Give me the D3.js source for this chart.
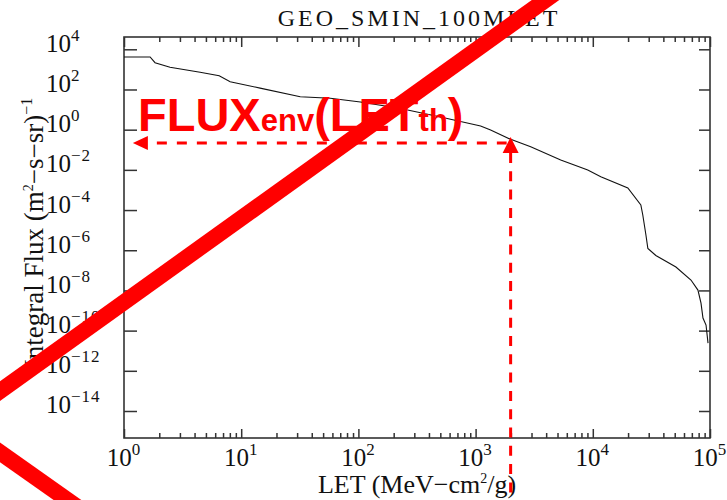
<!DOCTYPE html>
<html>
<head>
<meta charset="utf-8">
<script src="https://cdn.jsdelivr.net/npm/d3@7"></script>
<style>
    body { margin: 0; background: #fff; }
    svg { display: block; }
    .serif { font-family: "Liberation Serif", "Times New Roman", serif; fill: #111; }
    .tick line { stroke: #333; stroke-width: 1.5; }
    .tick text { display: none; }
    .domain { display: none; }
</style>
</head>
<body>
<svg id="svg"></svg>
<script>
// integral LET spectrum, GEO solar minimum, 100 mil shielding
const letValues = [1, 1.67, 1.84, 2.47, 4.46, 6.49, 8.05, 14.5, 31.9, 57.6, 104, 229, 502,
    1103, 1343, 1991, 2951, 5324, 9060, 11700, 19900, 25700, 26700, 28400, 29500,
    34500, 51200, 68800, 78900, 83800, 87100, 92500, 96200];
const fluxValues = [4140, 4140, 2150, 1270, 716, 485, 244, 117, 43.7, 36.4, 23.8, 11.3, 4.27,
    1.52, 0.96, 0.331, 0.142, 0.0309, 0.0098, 0.00456, 1.25e-3, 1.78e-4, 5.66e-5,
    5.72e-6, 1.22e-6, 5.45e-7, 1.46e-7, 3.29e-8, 1.04e-8, 2.35e-9, 4.22e-10, 1.89e-10, 2.40e-11];

// tick exponents
const xExponents = [0, 1, 2, 3, 4, 5];
const yExponents = [4, 2, 0, -2, -4, -6, -8, -10, -12, -14];

// threshold read-off
const letTh = 1990;
const fluxEnv = 0.217;
const arrowLet = 1.19;

const width = 727;
const height = 500;
const margin = { top: 37, right: 17, bottom: 62, left: 124 };

let svg = d3.select("#svg").attr("width", width).attr("height", height);

const xScale = d3.scaleLog()
    .domain([1, 1e5])
    .range([margin.left, width - margin.right]);

const yScale = d3.scaleLog()
    .domain([Math.pow(10, -15.344), Math.pow(10, 4.612)])
    .range([height - margin.bottom, margin.top]);

const x0 = xScale.range()[0], x1 = xScale.range()[1];
const y0 = yScale.range()[1], y1 = yScale.range()[0];

// major/minor tick values
const xMajor = xExponents.map(e => Math.pow(10, e));
let xMinor = [];
for (let e = 0; e < 5; e++) {
    for (let k = 2; k <= 9; k++) xMinor.push(k * Math.pow(10, e));
}
const yMajor = yExponents.map(e => Math.pow(10, e));

function superLabel(sel, base, exp, supSize, rise) {
    sel.append("tspan").text(base);
    sel.append("tspan")
        .attr("dy", -rise)
        .style("font-size", supSize + "px")
        .style("letter-spacing", "1px")
        .text(exp);
}

// axes: ticks point inward on all four sides
svg.append("g").attr("transform", `translate(0,${y1})`)
    .call(d3.axisBottom(xScale).tickValues(xMajor).tickSize(-9).tickFormat(""));
svg.append("g").attr("transform", `translate(0,${y1})`)
    .call(d3.axisBottom(xScale).tickValues(xMinor).tickSize(-5).tickFormat(""));
svg.append("g").attr("transform", `translate(0,${y0})`)
    .call(d3.axisTop(xScale).tickValues(xMajor).tickSize(-10).tickFormat(""));
svg.append("g").attr("transform", `translate(0,${y0})`)
    .call(d3.axisTop(xScale).tickValues(xMinor).tickSize(-5).tickFormat(""));
svg.append("g").attr("transform", `translate(${x0},0)`)
    .call(d3.axisLeft(yScale).tickValues(yMajor).tickSize(-13).tickFormat(""));
svg.append("g").attr("transform", `translate(${x1},0)`)
    .call(d3.axisRight(yScale).tickValues(yMajor).tickSize(-11).tickFormat(""));

// frame
svg.append("rect")
    .attr("x", x0).attr("y", y0)
    .attr("width", x1 - x0).attr("height", y1 - y0)
    .attr("fill", "none")
    .attr("stroke", "#333")
    .attr("stroke-width", 1.6);

// x tick labels
xExponents.forEach(e => {
    const t = svg.append("text")
        .attr("class", "serif")
        .attr("x", xScale(Math.pow(10, e)))
        .attr("y", y1 + 28)
        .attr("text-anchor", "middle")
        .style("font-size", "25px");
    superLabel(t, "10", String(e), 17, 11);
});

// y tick labels
yExponents.forEach(e => {
    const t = svg.append("text")
        .attr("class", "serif")
        .attr("x", 46)
        .attr("y", yScale(Math.pow(10, e)) + 2.5)
        .style("font-size", "25px");
    superLabel(t, "10", e < 0 ? "\u2212" + Math.abs(e) : String(e), 17, 11);
});

// title
svg.append("text")
    .attr("class", "serif")
    .attr("x", (x0 + x1) / 2 + 2)
    .attr("y", 26)
    .attr("text-anchor", "middle")
    .style("font-size", "24px")
    .style("letter-spacing", "3px")
    .text("GEO_SMIN_100MLET");

// x axis title
const xt = svg.append("text")
    .attr("class", "serif")
    .attr("x", (x0 + x1) / 2)
    .attr("y", 493)
    .attr("text-anchor", "middle")
    .style("font-size", "26px");
xt.append("tspan").text("LET (MeV\u2212cm");
xt.append("tspan").attr("dy", -10).style("font-size", "14px").text("2");
xt.append("tspan").attr("dy", 10).text("/g)");

// y axis title
const yt = svg.append("text")
    .attr("class", "serif")
    .attr("transform", "translate(43,233) rotate(-90)")
    .attr("text-anchor", "middle")
    .style("font-size", "27px");
yt.append("tspan").text("Integral Flux (m");
yt.append("tspan").attr("dy", -10).style("font-size", "14px").text("2");
yt.append("tspan").attr("dy", 10).text("\u2212s\u2212sr)");
yt.append("tspan").attr("dy", -11).style("font-size", "16px").text("\u22121");

// flux curve
const line = d3.line()
    .x(d => xScale(d[0]))
    .y(d => yScale(d[1]));

svg.append("path")
    .datum(letValues.map((v, i) => [v, fluxValues[i]]))
    .attr("d", line)
    .attr("fill", "none")
    .attr("stroke", "#111")
    .attr("stroke-width", 1.1);

// annotation: read-off of flux at threshold LET
const red = "#ff0000";
const ax = xScale(letTh);
const ay = yScale(fluxEnv);
const tipX = xScale(arrowLet);

svg.append("line")
    .attr("x1", tipX + 15).attr("y1", ay)
    .attr("x2", ax - 4).attr("y2", ay)
    .attr("stroke", red).attr("stroke-width", 3)
    .attr("stroke-dasharray", "0,9,10,1");

svg.append("path")
    .attr("d", `M${tipX},${ay} L${tipX + 15},${ay - 7} L${tipX + 15},${ay + 7} Z`)
    .attr("fill", red);

svg.append("line")
    .attr("x1", ax).attr("y1", ay + 10)
    .attr("x2", ax).attr("y2", height)
    .attr("stroke", red).attr("stroke-width", 3)
    .attr("stroke-dasharray", "10,8.3");

svg.append("path")
    .attr("d", `M${ax},${ay - 6} L${ax + 8},${ay + 10} L${ax - 8},${ay + 10} Z`)
    .attr("fill", red);

const label = svg.append("text")
    .attr("x", 138)
    .attr("y", 131)
    .attr("fill", red)
    .style("font-family", "'Liberation Sans', Arial, sans-serif")
    .style("font-weight", "bold")
    .style("font-size", "47px");
label.append("tspan").text("FLUX");
label.append("tspan").style("font-size", "31px").text("env");
label.append("tspan").text("(LET");
label.append("tspan").style("font-size", "31px").text("th");
label.append("tspan").text(")");

// red cross strokes over the figure
const cross = { x: -43, y: 422 };
svg.append("line")
    .attr("x1", cross.x).attr("y1", cross.y)
    .attr("x2", cross.x + 700).attr("y2", cross.y - 0.717 * 700)
    .attr("stroke", red).attr("stroke-width", 16);
svg.append("line")
    .attr("x1", cross.x).attr("y1", cross.y)
    .attr("x2", cross.x + 200).attr("y2", cross.y + 0.706 * 200)
    .attr("stroke", red).attr("stroke-width", 16);
</script>
</body>
</html>
